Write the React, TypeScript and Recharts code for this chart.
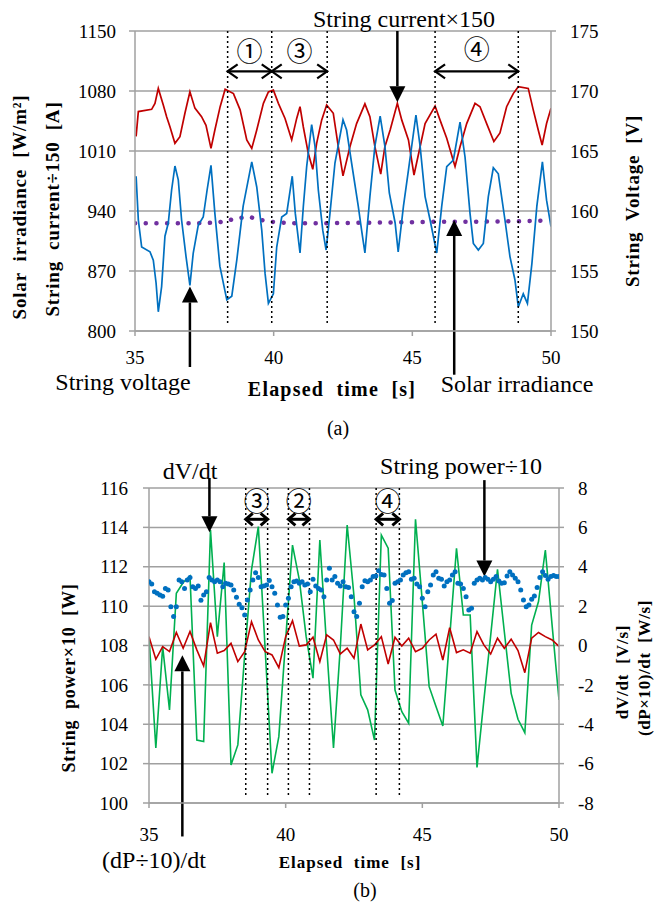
import React from "react";
import {
  ComposedChart,
  Line,
  XAxis,
  YAxis,
  CartesianGrid,
  ReferenceLine
} from "recharts";

const SERIF = "'Liberation Serif', 'Times New Roman', serif";
const CIRC = "'Noto Sans CJK JP', 'DejaVu Sans', sans-serif";
const GRID = "#A0A0A0";
const RED = "#C00000";
const BLUE = "#0070C0";
const PURPLE = "#7030A0";
const GREEN = "#00B050";

// ---- (a) top chart ----
const xTicks = [35, 40, 45, 50];
const leftTicksA = [800, 870, 940, 1010, 1080, 1150];
const rightTicksA = [150, 155, 160, 165, 170, 175];

// string current x150 [A] (left axis)
const curT = [35.04, 35.12, 35.6, 35.72, 35.84, 36.02, 36.14, 36.26, 36.44, 36.62, 36.8, 36.98, 37.16, 37.4, 37.56, 37.74, 37.88, 38.07, 38.25, 38.55, 38.79, 39.03, 39.21, 39.39, 39.63, 39.81, 39.99, 40.17, 40.41, 40.65, 40.83, 40.95, 41.07, 41.25, 41.41, 41.55, 41.73, 41.91, 42.15, 42.33, 42.5, 42.75, 42.99, 43.29, 43.47, 43.65, 43.86, 44.01, 44.2, 44.46, 44.62, 44.86, 45.06, 45.28, 45.46, 45.82, 46.0, 46.24, 46.54, 46.72, 46.96, 47.26, 47.44, 47.68, 47.94, 48.16, 48.4, 48.64, 48.82, 49.18, 49.36, 49.54, 49.68, 49.84, 50.0];
const curV = [1027, 1056, 1058.6, 1065.6, 1083, 1063.7, 1050, 1038.4, 1019, 1026.7, 1054, 1079, 1060, 1050, 1040, 1013, 1034.5, 1061.7, 1082, 1077, 1058, 1023, 1013, 1034.5, 1065.6, 1079, 1081, 1065.6, 1048, 1023, 1048, 1061.7, 1038, 1007, 988.6, 1019, 1046, 1063.7, 1054, 1015, 981, 1015, 1042, 1065, 1050, 1015, 983, 1015, 1034.5, 1065.6, 1046, 1023, 982, 1015, 1042, 1062.5, 1046, 1025, 992, 1015, 1042, 1065.6, 1061.7, 1042, 1021, 1031, 1061.7, 1077, 1085, 1083, 1058, 1034.5, 1017, 1042, 1060];

// string voltage [V] (right axis)
const voltT = [35.04, 35.12, 35.24, 35.54, 35.66, 35.76, 35.84, 35.96, 36.08, 36.2, 36.32, 36.44, 36.56, 36.68, 36.84, 36.98, 37.1, 37.28, 37.46, 37.6, 37.74, 37.88, 38.06, 38.31, 38.49, 38.67, 38.9, 39.21, 39.39, 39.57, 39.69, 39.81, 39.99, 40.11, 40.29, 40.47, 40.67, 40.78, 40.95, 41.07, 41.19, 41.37, 41.49, 41.61, 41.77, 41.89, 42.03, 42.21, 42.5, 42.63, 42.81, 43.05, 43.17, 43.29, 43.47, 43.65, 43.84, 44.01, 44.17, 44.38, 44.49, 44.68, 44.86, 45.13, 45.28, 45.46, 45.64, 45.88, 46.06, 46.24, 46.48, 46.72, 46.9, 47.08, 47.2, 47.38, 47.56, 47.74, 47.92, 48.1, 48.34, 48.52, 48.7, 48.82, 49.0, 49.15, 49.31, 49.49, 49.69, 49.84, 50.0];
const voltV = [162.9, 159.25, 157.0, 156.6, 155.9, 154.0, 151.6, 153.7, 157.9, 159.0, 161.75, 163.75, 162.6, 159.25, 156.2, 153.8, 156.5, 158.8, 159.5, 161.75, 163.8, 159.8, 155.4, 152.6, 152.9, 155.9, 160.4, 164.1, 162.0, 158.4, 154.8, 152.3, 153.1, 157.0, 159.5, 159.8, 162.9, 159.8, 156.5, 160.4, 163.7, 167.2, 165.4, 161.75, 158.4, 156.75, 159.8, 164.0, 167.6, 166.75, 164.0, 160.4, 158.4, 156.5, 161.2, 165.4, 167.9, 165.4, 161.5, 159.0, 156.6, 160.4, 163.4, 168.0, 165.4, 161.2, 159.25, 156.5, 160.4, 163.7, 164.25, 167.4, 164.5, 159.8, 157.3, 156.75, 157.3, 161.2, 163.6, 163.1, 159.25, 156.2, 154.25, 152.0, 153.1, 152.3, 155.6, 160.4, 164.1, 160.9, 158.7];

// solar irradiance [W/m2] (left axis)
const irrT = [35, 36, 37, 37.5, 38, 38.3, 38.7, 39.1, 39.45, 39.85, 40.5, 41, 42, 43, 44, 45, 46, 47, 48, 49, 50];
const irrV = [925.6, 925.6, 925.6, 926, 926.5, 928.7, 931.5, 933.4, 930.3, 927.5, 926, 925.6, 925.8, 926.2, 926.6, 927, 927.5, 927.5, 927.8, 928.2, 929];

const marksA = [38.34, 39.93, 41.93, 45.82, 48.82];
const spansA = [[38.34, 39.93], [39.93, 41.93], [45.82, 48.82]];

// ---- (b) bottom chart ----
const leftTicksB = [100, 102, 104, 106, 108, 110, 112, 114, 116];
const rightTicksB = [-8, -6, -4, -2, 0, 2, 4, 6, 8];

// dV/dt [V/s], sampled every 0.25 s from 35 s
const dvdt = [0.45, -5.2, -0.06, -3.27, 2.65, 3.2, 3.53, -4.8, -4.88, 5.87, 0.45, 4.21, -6.07, -5.05, -0.5, 3.84, 6.04, -0.2, -6.49, -4.63, 0.3, 5.1, 3.33, 0.45, -1.66, 5.36, -0.06, -5.2, -0.06, 6.12, 2.5, -2.5, -3.27, -4.8, 5.61, 4.94, -2.26, -3.36, -3.95, 6.41, 2.2, -2.09, -3.1, -4.09, 0.4, 4.94, 1.55, 1.55, -6.19, -2.8, 0.5, 3.87, 0.7, -2.43, -3.75, -4.43, 1.04, 2.23, 4.85, 1.0, -2.77];
// (dP/10)/dt [W/s], same clock
const dpdt = [0.45, -0.7, -0.06, -0.31, 0.66, -0.14, 0.71, -0.22, -1.04, 1.16, -0.39, -0.26, 0.11, -0.82, -0.31, 1.21, 0.28, -0.31, -0.48, -1.13, 0.45, 1.26, -0.03, 0.03, 0.42, -0.82, 0.54, 0.28, -0.43, -0.14, -0.65, 1.09, -0.22, 0.03, 0.45, -0.94, 0.42, -0.03, 0.37, -0.31, -0.14, 0.28, 0.58, -0.74, 0.9, -0.36, -0.22, -0.39, 0.71, 0.03, -0.43, 0.37, -0.14, 0.32, -0.26, -1.38, 0.37, 0.66, 0.45, 0.28, -0.04];
// string power / 10 [W], sampled every 0.1 s from 35 s
const power = [111.24, 111.12, 110.73, 110.65, 110.57, 110.5, 110.9, 110.82, 109.97, 109.47,
  109.97, 111.33, 111.24, 110.9, 111.33, 111.46, 110.99, 110.9, 111.02, 110.3,
  110.57, 110.73, 111.46, 111.33, 111.24, 111.33, 111.24, 110.99, 111.16, 111.12,
  111.07, 110.82, 110.45, 110.09, 109.92, 109.55, 110.31, 110.82, 111.33, 111.7,
  111.45, 110.99, 111.02, 111.07, 111.3, 110.99, 110.65, 110.06, 109.43, 109.47,
  110.06, 110.4, 110.99, 111.24, 111.28, 111.16, 111.24, 111.07, 111.12, 110.73,
  111.36, 111.02, 110.9, 110.82, 110.48, 111.33, 111.92, 111.33, 111.5, 111.16,
  111.02, 111.24, 110.99, 110.95, 110.48, 109.72, 109.47, 110.14, 110.99, 111.29,
  111.24, 111.33, 111.5, 111.53, 111.8, 111.61, 111.58, 110.9, 110.14, 110.28,
  111.16, 111.24, 111.33, 111.58, 111.7, 111.75, 111.36, 111.41, 111.12, 110.99,
  110.4, 109.97, 110.73, 111.07, 111.58, 111.75, 111.41, 111.36, 111.02, 111.24,
  111.33, 111.58, 111.75, 111.16, 111.12, 110.9, 110.48, 109.8, 109.89, 111.16,
  111.33, 111.41, 111.33, 111.45, 111.36, 111.24, 111.36, 111.5, 111.28, 111.16,
  111.19, 111.53, 111.75, 111.58, 111.41, 111.24, 110.82, 110.31, 109.97, 110.06,
  110.35, 110.52, 110.95, 111.46, 111.75, 111.55, 111.36, 111.5, 111.56, 111.5, 111.5];

const marksB = [38.54, 39.34, 40.1, 40.87, 43.31, 44.16];
const spansB = [[38.54, 39.34], [40.1, 40.87], [43.31, 44.16]];

const clock = (start: number, step: number, n: number) =>
  Array.from({ length: n }, (_, i) => +(start + i * step).toFixed(2));

const curRows = curT.map((t, i) => ({ t, v: curV[i] }));
const voltRows = voltT.map((t, i) => ({ t, v: voltV[i] }));
const irrRows = irrT.map((t, i) => ({ t, v: irrV[i] }));
const rateTimes = clock(35, 0.25, dvdt.length);
const dvRows = rateTimes.map((t, i) => ({ t, v: dvdt[i] }));
const dpRows = rateTimes.map((t, i) => ({ t, v: dpdt[i] }));
const powRows = clock(35, 0.1, power.length).map((t, i) => ({ t, v: power[i] }));

const tickStyle = { fill: "#000", fontSize: 19, fontFamily: SERIF };

const singleArrow = (hl: number, hw: number, sw: number) => (p: any) => {
  const { x1, y1, x2, y2 } = p;
  const dx = x2 - x1, dy = y2 - y1;
  const len = Math.hypot(dx, dy) || 1;
  const ux = dx / len, uy = dy / len;
  const bx = x2 - ux * hl, by = y2 - uy * hl;
  const pts = `${x2},${y2} ${bx - uy * hw},${by + ux * hw} ${bx + uy * hw},${by - ux * hw}`;
  return (
    <g>
      <line x1={x1} y1={y1} x2={bx} y2={by} stroke="#000" strokeWidth={sw} />
      <polygon points={pts} fill="#000" />
    </g>
  );
};

const doubleArrow = (hl: number, hw: number, sw: number) => (p: any) => {
  const { x1, y1, x2, y2 } = p;
  const head = (tx: number, ty: number, dir: number) => (
    <polyline
      points={`${tx - dir * hl},${ty - hw} ${tx},${ty} ${tx - dir * hl},${ty + hw}`}
      fill="none"
      stroke="#000"
      strokeWidth={sw}
    />
  );
  return (
    <g>
      <line x1={x1} y1={y1} x2={x2} y2={y2} stroke="#000" strokeWidth={sw} />
      {head(x2, y2, 1)}
      {head(x1, y1, -1)}
    </g>
  );
};

function Txt(props: { x: number; y: number; size: number; bold?: boolean; rot?: boolean; font?: string; ls?: number; children: React.ReactNode }) {
  const { x, y, size, bold, rot, font, ls, children } = props;
  return (
    <div
      style={{
        position: "absolute",
        left: x,
        top: y,
        transform: `translate(-50%, -50%)${rot ? " rotate(-90deg)" : ""}`,
        fontSize: size,
        fontWeight: bold ? 700 : 400,
        fontFamily: font || SERIF,
        letterSpacing: ls,
        whiteSpace: "pre",
        lineHeight: 1,
        color: "#000"
      }}
    >
      {children}
    </div>
  );
}

function ChartA() {
  return (
    <ComposedChart width={656} height={440} margin={{ top: 31, right: 45, bottom: 69, left: 55 }}>
      <CartesianGrid yAxisId="left" vertical={false} stroke={GRID} strokeWidth={1.5} />
      <XAxis dataKey="t" type="number" domain={[35, 50]} ticks={xTicks} allowDataOverflow stroke={GRID} strokeWidth={1.5} tick={tickStyle} tickSize={5} tickMargin={15} height={40} />
      <YAxis yAxisId="left" domain={[800, 1150]} ticks={leftTicksA} allowDataOverflow width={80} stroke={GRID} strokeWidth={1.5} tick={tickStyle} tickSize={6} tickMargin={13} />
      <YAxis yAxisId="right" orientation="right" domain={[150, 175]} ticks={rightTicksA} allowDataOverflow width={60} stroke={GRID} strokeWidth={1.5} tick={tickStyle} tickSize={5} tickMargin={14} />
      <Line data={curRows} dataKey="v" yAxisId="left" stroke={RED} strokeWidth={1.7} dot={false} activeDot={false} isAnimationActive={false} />
      <Line data={irrRows} dataKey="v" yAxisId="left" stroke={PURPLE} strokeWidth={4.5} strokeDasharray="0.1 10.6" strokeLinecap="round" dot={false} activeDot={false} isAnimationActive={false} />
      <Line data={voltRows} dataKey="v" yAxisId="right" stroke={BLUE} strokeWidth={1.7} dot={false} activeDot={false} isAnimationActive={false} />
      {marksA.map((t) => (
        <ReferenceLine key={"ma" + t} yAxisId="left" segment={[{ x: t, y: 1150 }, { x: t, y: 807 }]} stroke="#000" strokeWidth={1.5} strokeDasharray="2 3" ifOverflow="visible" />
      ))}
      {spansA.map(([a, b]) => (
        <ReferenceLine key={"sa" + a} yAxisId="left" segment={[{ x: a, y: 1103 }, { x: b, y: 1103 }]} ifOverflow="visible" shape={doubleArrow(10, 7, 2.2)} />
      ))}
      <ReferenceLine yAxisId="left" segment={[{ x: 44.46, y: 1150 }, { x: 44.46, y: 1067 }]} ifOverflow="visible" shape={singleArrow(16, 8, 2.5)} />
      <ReferenceLine yAxisId="left" segment={[{ x: 36.98, y: 758 }, { x: 36.98, y: 852 }]} ifOverflow="visible" shape={singleArrow(16, 8, 2.5)} />
      <ReferenceLine yAxisId="left" segment={[{ x: 46.51, y: 749 }, { x: 46.51, y: 929.5 }]} ifOverflow="visible" shape={singleArrow(16, 8, 2.5)} />
    </ComposedChart>
  );
}

function ChartB() {
  return (
    <ComposedChart width={656} height={463} margin={{ top: 48, right: 37, bottom: 60, left: 69 }}>
      <CartesianGrid yAxisId="left" vertical={false} stroke={GRID} strokeWidth={1.5} />
      <XAxis dataKey="t" type="number" domain={[35, 50]} ticks={xTicks} allowDataOverflow stroke={GRID} strokeWidth={1.5} tick={tickStyle} tickSize={5} tickMargin={20} height={40} />
      <YAxis yAxisId="left" domain={[100, 116]} ticks={leftTicksB} allowDataOverflow width={80} stroke={GRID} strokeWidth={1.5} tick={tickStyle} tickSize={6} tickMargin={15} />
      <YAxis yAxisId="right" orientation="right" domain={[-8, 8]} ticks={rightTicksB} allowDataOverflow width={60} stroke={GRID} strokeWidth={1.5} tick={tickStyle} tickSize={5} tickMargin={14} />
      <Line data={dvRows} dataKey="v" yAxisId="right" stroke={GREEN} strokeWidth={1.6} dot={false} activeDot={false} isAnimationActive={false} />
      <Line data={dpRows} dataKey="v" yAxisId="right" stroke={RED} strokeWidth={1.6} dot={false} activeDot={false} isAnimationActive={false} />
      <Line data={powRows} dataKey="v" yAxisId="left" stroke="none" dot={{ r: 2.5, fill: BLUE, stroke: "none" }} activeDot={false} isAnimationActive={false} />
      {marksB.map((t) => (
        <ReferenceLine key={"mb" + t} yAxisId="right" segment={[{ x: t, y: 8 }, { x: t, y: -7.7 }]} stroke="#000" strokeWidth={1.5} strokeDasharray="2 3" ifOverflow="visible" />
      ))}
      {spansB.map(([a, b]) => (
        <ReferenceLine key={"sb" + a} yAxisId="right" segment={[{ x: a, y: 6.41 }, { x: b, y: 6.41 }]} ifOverflow="visible" shape={doubleArrow(7, 6, 3)} />
      ))}
      <ReferenceLine yAxisId="right" segment={[{ x: 37.21, y: 8.5 }, { x: 37.21, y: 5.75 }]} ifOverflow="visible" shape={singleArrow(16, 8, 2.5)} />
      <ReferenceLine yAxisId="right" segment={[{ x: 47.27, y: 8.4 }, { x: 47.27, y: 3.5 }]} ifOverflow="visible" shape={singleArrow(16, 8, 2.5)} />
      <ReferenceLine yAxisId="right" segment={[{ x: 36.22, y: -9.7 }, { x: 36.22, y: -0.5 }]} ifOverflow="visible" shape={singleArrow(16, 8, 2.5)} />
    </ComposedChart>
  );
}

export default function App() {
  return (
    <div style={{ position: "absolute", left: 0, top: 0, width: 656, height: 903, background: "#fff", overflow: "hidden", fontFamily: SERIF }}>
      <div style={{ position: "absolute", left: 0, top: 0 }}>
        <ChartA />
      </div>
      <div style={{ position: "absolute", left: 0, top: 440 }}>
        <ChartB />
      </div>

      {/* (a) texts */}
      <Txt x={19} y={207} size={19} bold rot ls={0.8}>{"Solar  irradiance  [W/m²]"}</Txt>
      <Txt x={52} y={209} size={19} bold rot ls={0.8}>{"String  current÷150  [A]"}</Txt>
      <Txt x={632} y={201} size={19} bold rot ls={0.8}>{"String  Voltage  [V]"}</Txt>
      <Txt x={404} y={19} size={24}>{"String current×150"}</Txt>
      <Txt x={123} y={382} size={24}>{"String voltage"}</Txt>
      <Txt x={517} y={384} size={24}>{"Solar irradiance"}</Txt>
      <Txt x={332} y={389} size={20} bold ls={1.2}>{"Elapsed  time  [s]"}</Txt>
      <Txt x={338} y={428} size={20}>{"(a)"}</Txt>
      <Txt x={249.6} y={50} size={26} font={CIRC}>{"①"}</Txt>
      <Txt x={299.5} y={50} size={26} font={CIRC}>{"③"}</Txt>
      <Txt x={476.7} y={48} size={26} font={CIRC}>{"④"}</Txt>

      {/* (b) texts */}
      <Txt x={69} y={678} size={18} bold rot ls={0.8}>{"String  power×10  [W]"}</Txt>
      <Txt x={622} y={672} size={17} bold rot ls={0.8}>{"dV/dt  [V/s]"}</Txt>
      <Txt x={644} y={668} size={17} bold rot ls={0.6}>{"(dP×10)/dt  [W/s]"}</Txt>
      <Txt x={190} y={471} size={24}>{"dV/dt"}</Txt>
      <Txt x={461} y={466} size={24}>{"String power÷10"}</Txt>
      <Txt x={154} y={860} size={24}>{"(dP÷10)/dt"}</Txt>
      <Txt x={350} y={862} size={17} bold ls={1}>{"Elapsed  time  [s]"}</Txt>
      <Txt x={365} y={890} size={20}>{"(b)"}</Txt>
      <Txt x={256.7} y={500} size={26} font={CIRC}>{"③"}</Txt>
      <Txt x={298.8} y={500} size={26} font={CIRC}>{"②"}</Txt>
      <Txt x={387.7} y={500} size={26} font={CIRC}>{"④"}</Txt>
    </div>
  );
}
